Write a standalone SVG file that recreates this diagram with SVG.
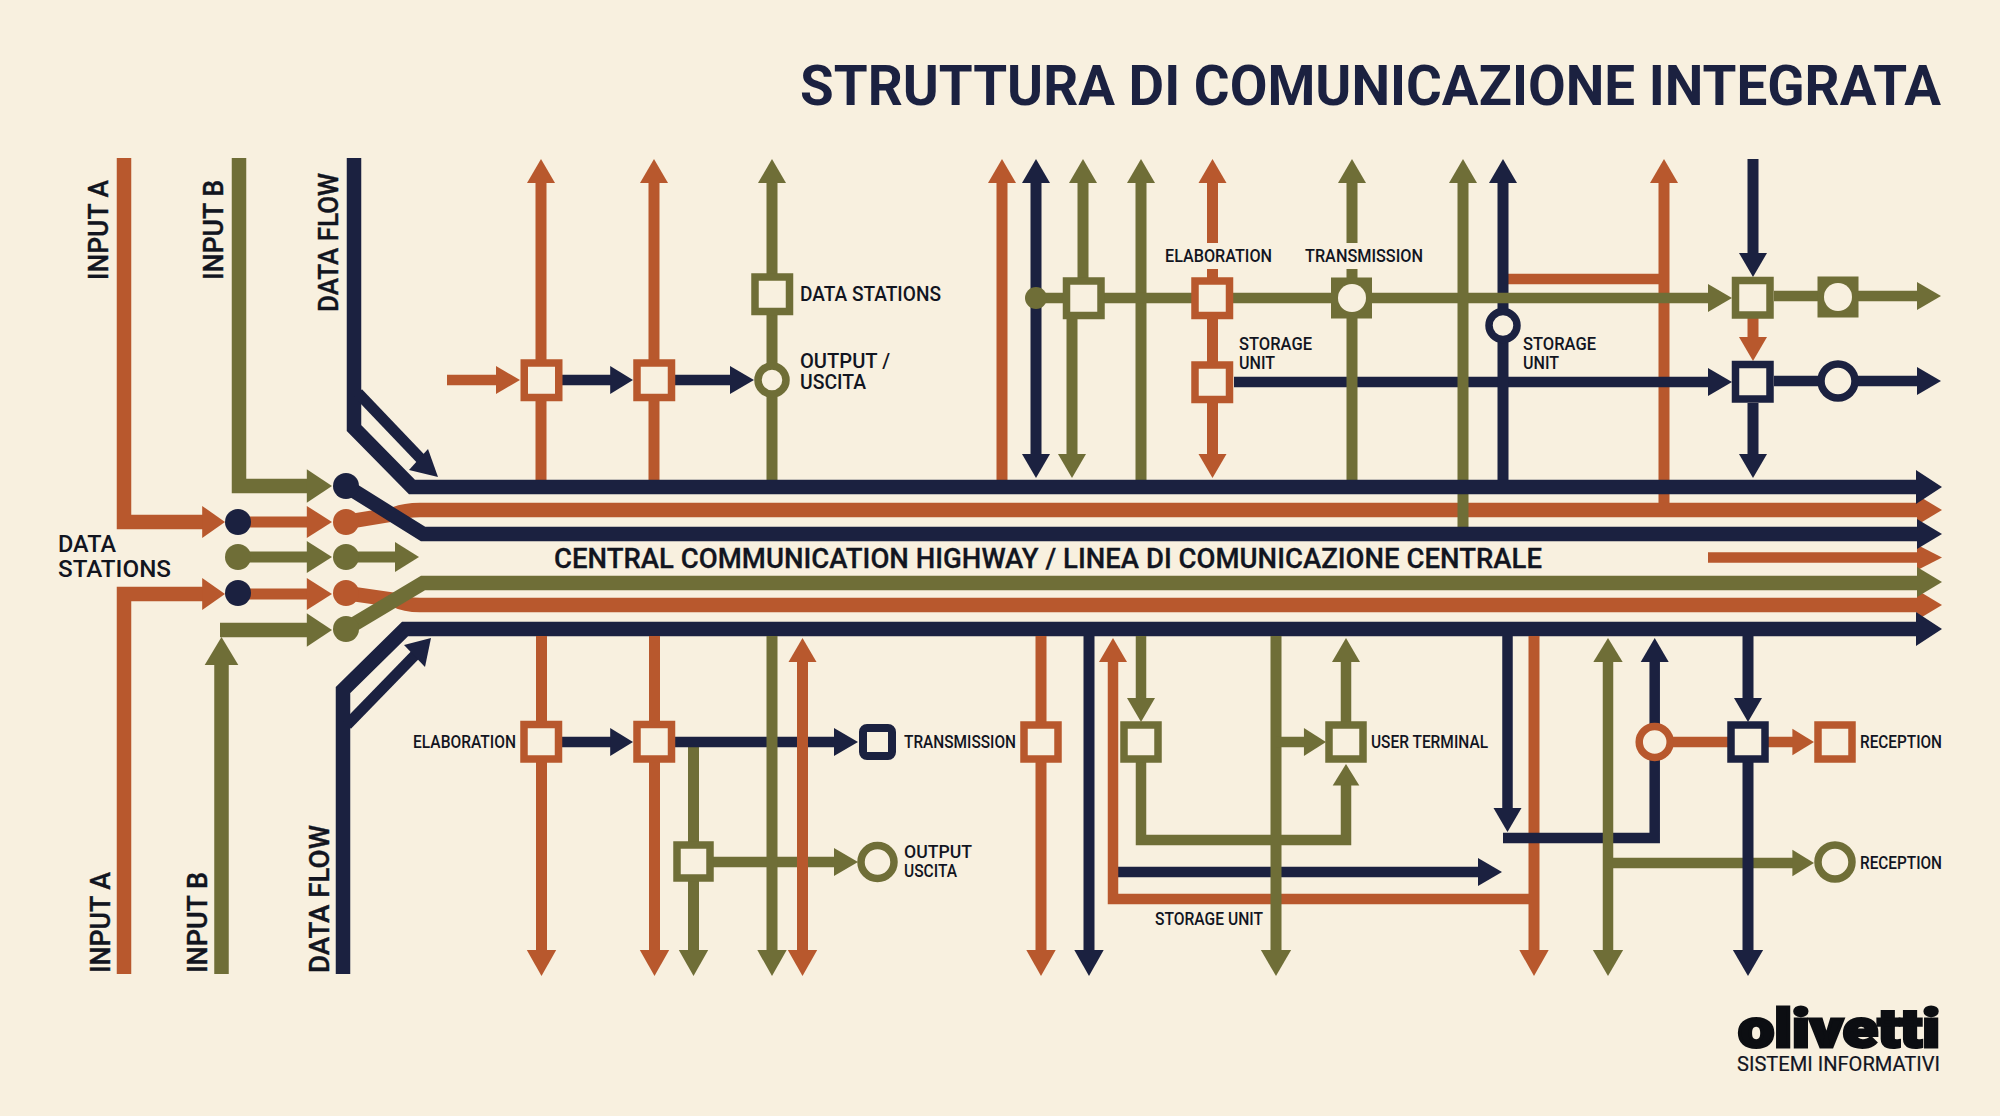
<svg xmlns="http://www.w3.org/2000/svg" width="2000" height="1116" viewBox="0 0 2000 1116">
<style>
.bg{fill:#f8f0df}
.l{fill:none;stroke-linejoin:miter}
.r{stroke:#b8582d}.o{stroke:#6f6e37}.n{stroke:#1b2140}
.fr{fill:#b8582d}.fo{fill:#6f6e37}.fn{fill:#1b2140}
.w10{stroke-width:10.500}.w11{stroke-width:11}.w14{stroke-width:14.500}
.box{fill:#f8f0df;stroke-width:7.500}
.hole{fill:#f8f0df}
text{font-family:"Roboto","Liberation Sans",sans-serif;font-weight:500;fill:#12151f}
.s{font-size:17.500px}.m{font-size:20px}.v{font-size:28px;stroke:#12151f;stroke-width:.4}
</style>
<defs>
<path id="ar" d="M-24-14L0 0L-24 14Z"/>
<path id="au" d="M-14 24L0 0L14 24Z"/>
<path id="ad" d="M-14-24L0 0L14-24Z"/>
<path id="aR" d="M-26-17L0 0L-26 17Z"/>
<path id="aM" d="M-25-15L0 0L-25 15Z"/>
</defs>
<rect class="bg" width="2000" height="1116"/>

<g id="connectors">
<!-- left inputs -->
<path class="l r w14" d="M124 158V522H205"/>
<path class="l r w14" d="M124 974V594H205"/>
<path class="l o w14" d="M239 158V486H310"/>
<path class="l o w14" d="M220 630H310"/>
<path class="l o w14" d="M221.500 974V660"/>
<use href="#ar" class="fr" transform="translate(225 522) scale(.95 1.15)"/>
<use href="#ar" class="fr" transform="translate(225 594) scale(.95 1.15)"/>
<use href="#ar" class="fo" transform="translate(332 486) scale(1.05 1.2)"/>
<use href="#ar" class="fo" transform="translate(332 630) scale(1.05 1.2)"/>
<use href="#au" class="fo" transform="translate(221.500 637) scale(1.2 1.17)"/>
<path class="l r w11" d="M238 522H310M238 594H310"/>
<path class="l o w11" d="M238 557H310M346 557H398"/>
<use href="#ar" class="fr" transform="translate(332 522) scale(1.05 1.15)"/>
<use href="#ar" class="fo" transform="translate(332 557) scale(1.05 1.15)"/>
<use href="#ar" class="fr" transform="translate(332 594) scale(1.05 1.15)"/>
<use href="#ar" class="fo" transform="translate(419 557) scale(1 1.08)"/>

<!-- verticals behind the highway, upper -->
<path class="l r w11" d="M541 183V480M654 183V480"/>
<path class="l o w11" d="M772 183V480"/>
<use href="#au" class="fr" x="541" y="159"/><use href="#au" class="fr" x="654" y="159"/><use href="#au" class="fo" x="772" y="159"/>
<path class="l r w10" d="M447 380H500"/>
<use href="#ar" class="fr" x="520" y="380"/>
<path class="l n w10" d="M562 380H612M675 380H733"/>
<use href="#ar" class="fn" transform="translate(633 380) scale(.95 1)"/>
<use href="#ar" class="fn" x="754" y="380"/>

<path class="l r w11" d="M1002 183V480"/><use href="#au" class="fr" x="1002" y="159"/>
<path class="l n w11" d="M1036 183V455"/><use href="#au" class="fn" x="1036" y="159"/><use href="#ad" class="fn" x="1036" y="478"/>
<path class="l o w11" d="M1083 183V298M1072 298V455"/><use href="#au" class="fo" x="1083" y="159"/><use href="#ad" class="fo" x="1072" y="478"/>
<path class="l o w11" d="M1141 183V480"/><use href="#au" class="fo" x="1141" y="159"/>
<path class="l r w11" d="M1212.500 183V243M1212.500 269V455"/><use href="#au" class="fr" x="1212.500" y="159"/><use href="#ad" class="fr" x="1212.500" y="478"/>
<path class="l r w10" d="M1508 279H1664"/>
<path class="l r w11" d="M1664 183V503"/><use href="#au" class="fr" x="1664" y="159"/>
<path class="l n w10" d="M1234 382H1712"/><use href="#ar" class="fn" x="1732" y="382"/>
<path class="l o w11" d="M1352 183V243M1352 269V480"/><use href="#au" class="fo" x="1352" y="159"/>
<path class="l n w11" d="M1503 183V480"/><use href="#au" class="fn" x="1503" y="159"/>
<path class="l o w10" d="M1036 298H1712"/><use href="#ar" class="fo" x="1732" y="298"/>
<path class="l n w11" d="M1753 159V255"/><use href="#ad" class="fn" x="1753" y="277"/>
<path class="l r w11" d="M1753 318V341"/><use href="#ad" class="fr" x="1753" y="361"/>
<path class="l n w11" d="M1753 403V456"/><use href="#ad" class="fn" x="1753" y="478"/>
<path class="l o w10" d="M1774 296H1920"/><use href="#ar" class="fo" x="1941" y="296"/>
<path class="l n w10" d="M1774 381H1920"/><use href="#ar" class="fn" x="1941" y="381"/>

<!-- highway -->
<path class="l r w14" d="M346 522L395 514Q405 510 420 510H1920"/>
<use href="#aM" class="fr" x="1942" y="510"/>
<path class="l o w11" d="M1463 183V527"/><use href="#au" class="fo" x="1463" y="159"/>
<path class="l r w10" d="M1708 557.500H1920"/>
<use href="#aM" class="fr" transform="translate(1942 557.500) scale(1 .85)"/>
<path class="l r w14" d="M346 593L395 600Q405 605 420 605H1920"/>
<use href="#aM" class="fr" x="1942" y="605"/>
<path class="l o w14" d="M346 629L423 583H1920"/>
<use href="#aM" class="fo" x="1942" y="582"/>
<path class="l n w14" d="M346 486L423 534H1920"/>
<use href="#aM" class="fn" x="1942" y="534"/>
<path class="l n w14" d="M354 158V428L412 487H1920"/>
<use href="#aR" class="fn" x="1942" y="487"/>
<path class="l n w14" d="M343 974V690L405 629H1920"/>
<use href="#aR" class="fn" x="1942" y="629"/>
<path class="l n w11" d="M358 393L421 459"/>
<path class="fn" d="M438 477L409 470L428 449Z"/>
<path class="l n w11" d="M347 725L417 653"/>
<path class="fn" d="M431 638L425 667L404 645Z"/>

<!-- lower verticals -->
<path class="l r w11" d="M541.500 636V952M654.500 636V952"/>
<use href="#ad" class="fr" transform="translate(541.500 976) scale(1.05 1.08)"/>
<use href="#ad" class="fr" transform="translate(654.500 976) scale(1.05 1.08)"/>
<path class="l o w11" d="M693.500 742V952"/><use href="#ad" class="fo" transform="translate(693.500 976) scale(1.05 1.08)"/>
<path class="l n w10" d="M562 742H612"/><use href="#ar" class="fn" transform="translate(633 742) scale(.95 1)"/>
<path class="l n w10" d="M675 742H838"/><use href="#ar" class="fn" x="858" y="742"/>
<path class="l o w10" d="M713 862H838"/><use href="#ar" class="fo" x="858" y="862"/>
<path class="l o w11" d="M772 636V952"/><use href="#ad" class="fo" transform="translate(772 976) scale(1.05 1.08)"/>
<path class="l r w11" d="M802.500 660V952"/><use href="#au" class="fr" x="802.500" y="638"/><use href="#ad" class="fr" transform="translate(802.500 976) scale(1.05 1.08)"/>

<path class="l r w11" d="M1041 636V952"/><use href="#ad" class="fr" transform="translate(1041 976) scale(1.05 1.08)"/>
<path class="l n w11" d="M1089 636V952"/><use href="#ad" class="fn" transform="translate(1089 976) scale(1.05 1.08)"/>
<path class="l n w10" d="M1118 872H1482"/><use href="#ar" class="fn" x="1502" y="872"/>
<path class="l r w10" d="M1113 660V899H1534"/><use href="#au" class="fr" x="1113" y="638"/>
<path class="l r w11" d="M1534 636V952"/><use href="#ad" class="fr" transform="translate(1534 976) scale(1.05 1.08)"/>
<path class="l o w10" d="M1141 636V702"/><use href="#ad" class="fo" x="1141" y="722"/>
<path class="l o w10" d="M1141 742V840H1346V783"/><use href="#au" class="fo" transform="translate(1346 764) scale(.95 .9)"/>
<path class="l o w11" d="M1276 636V952"/><use href="#ad" class="fo" transform="translate(1276 976) scale(1.08 1.08)"/>
<path class="l o w10" d="M1276 742H1306"/><use href="#ar" class="fo" transform="translate(1326 742) scale(.92 1)"/>
<path class="l o w10" d="M1346 722V660"/><use href="#au" class="fo" x="1346" y="638"/>
<path class="l n w10" d="M1507.500 636V812"/><use href="#ad" class="fn" x="1507.500" y="832"/>
<path class="l n w10" d="M1503 838H1654.700V660"/><use href="#au" class="fn" x="1654.700" y="638"/>
<path class="l o w10" d="M1608 660V952"/><use href="#au" class="fo" transform="translate(1608 638) scale(1.05 1)"/><use href="#ad" class="fo" transform="translate(1608 976) scale(1.08 1.08)"/>
<path class="l o w10" d="M1608 863H1795"/><use href="#ar" class="fo" transform="translate(1814 863) scale(.9 .95)"/>
<path class="l r w10" d="M1673 742H1795"/><use href="#ar" class="fr" transform="translate(1814 742) scale(.9 .95)"/>
<path class="l n w11" d="M1748 636V702M1748 762V952"/><use href="#ad" class="fn" x="1748" y="722"/><use href="#ad" class="fn" transform="translate(1748 976) scale(1.08 1.08)"/>
</g>

<g id="input-dots">
<circle class="fn" cx="238" cy="522" r="13"/><circle class="fo" cx="238" cy="557" r="13"/><circle class="fn" cx="238" cy="593" r="13"/>
<circle class="fn" cx="346" cy="486" r="13"/><circle class="fr" cx="346" cy="522" r="13"/><circle class="fo" cx="346" cy="557" r="13"/><circle class="fr" cx="346" cy="593" r="13"/><circle class="fo" cx="346" cy="629" r="13"/>
<circle class="fo" cx="1036" cy="298" r="11"/>
</g>

<g id="n1"><rect class="box r" x="524.250" y="363" width="34.500" height="34.500"/></g>
<g id="n2"><rect class="box r" x="637" y="363" width="34.500" height="34.500"/></g>
<g id="n3"><rect class="box o" x="755" y="277" width="34.500" height="34.500"/></g>
<g id="n4"><circle class="box o" cx="772" cy="380" r="14"/></g>
<g id="n5"><rect class="box o" x="1066.500" y="281" width="34.500" height="34.500"/></g>
<g id="n6"><rect class="box r" x="1195" y="281" width="34.500" height="34.500"/></g>
<g id="n7"><rect class="box r" x="1195" y="365" width="34.500" height="34.500"/></g>
<g id="n8"><rect class="fo" x="1331" y="277.500" width="41" height="41"/><circle class="hole" cx="1352" cy="298" r="14"/></g>
<g id="n9"><circle class="box n" cx="1503" cy="325.500" r="14"/></g>
<g id="n10"><rect class="box o" x="1735.500" y="280.500" width="34.500" height="34.500"/></g>
<g id="n11"><rect class="fo" x="1817.500" y="276.500" width="41" height="41"/><circle class="hole" cx="1838" cy="297" r="14"/></g>
<g id="n12"><rect class="box n" x="1735.500" y="364.500" width="34.500" height="34.500"/></g>
<g id="n13"><circle class="box n" cx="1838" cy="381" r="17"/></g>
<g id="n14"><rect class="box r" x="524" y="724.500" width="34.500" height="34.500"/></g>
<g id="n15"><rect class="box r" x="637" y="724.500" width="34.500" height="34.500"/></g>
<g id="n16"><rect class="box n" x="863" y="728" width="29" height="28" rx="4" style="stroke-width:8"/></g>
<g id="n17"><rect class="box o" x="677" y="845" width="33" height="33"/></g>
<g id="n18"><circle class="box o" cx="877.500" cy="862" r="16.500"/></g>
<g id="n19"><rect class="box r" x="1024" y="725" width="34" height="34"/></g>
<g id="n20"><rect class="box o" x="1124" y="725" width="34" height="34"/></g>
<g id="n21"><rect class="box o" x="1329" y="725" width="34" height="34"/></g>
<g id="n22"><circle class="box r" cx="1654.700" cy="742" r="15.500"/></g>
<g id="n23"><rect class="box n" x="1731" y="725" width="34" height="34"/></g>
<g id="n24"><rect class="box r" x="1818" y="725" width="34" height="34"/></g>
<g id="n25"><circle class="box o" cx="1835" cy="862" r="17"/></g>

<g id="labels">
<text x="800" y="105" style="font-size:55px;font-weight:700;fill:#1b2140" textLength="1141" lengthAdjust="spacingAndGlyphs">STRUTTURA DI COMUNICAZIONE INTEGRATA</text>
<text class="v" transform="translate(108 280) rotate(-90)" textLength="100" lengthAdjust="spacingAndGlyphs">INPUT A</text>
<text class="v" transform="translate(223 280) rotate(-90)" textLength="100" lengthAdjust="spacingAndGlyphs">INPUT B</text>
<text class="v" transform="translate(338 312) rotate(-90)" textLength="139" lengthAdjust="spacingAndGlyphs">DATA FLOW</text>
<text class="v" transform="translate(110 973) rotate(-90)" textLength="101" lengthAdjust="spacingAndGlyphs">INPUT A</text>
<text class="v" transform="translate(207 973) rotate(-90)" textLength="101" lengthAdjust="spacingAndGlyphs">INPUT B</text>
<text class="v" transform="translate(329 973) rotate(-90)" textLength="148" lengthAdjust="spacingAndGlyphs">DATA FLOW</text>
<text x="58" y="552" style="font-size:24px" textLength="58" lengthAdjust="spacingAndGlyphs">DATA</text>
<text x="58" y="577" style="font-size:24px" textLength="113" lengthAdjust="spacingAndGlyphs">STATIONS</text>
<text x="554" y="568" style="font-size:27px;stroke:#12151f;stroke-width:.3" textLength="988" lengthAdjust="spacingAndGlyphs">CENTRAL COMMUNICATION HIGHWAY / LINEA DI COMUNICAZIONE CENTRALE</text>
<text class="m" x="800" y="301" textLength="141" lengthAdjust="spacingAndGlyphs">DATA STATIONS</text>
<text class="m" x="800" y="368" textLength="90" lengthAdjust="spacingAndGlyphs">OUTPUT /</text>
<text class="m" x="800" y="389" textLength="66" lengthAdjust="spacingAndGlyphs">USCITA</text>
<text class="s" x="1165" y="262" textLength="107" lengthAdjust="spacingAndGlyphs">ELABORATION</text>
<text class="s" x="1305" y="262" textLength="118" lengthAdjust="spacingAndGlyphs">TRANSMISSION</text>
<text class="s" x="1239" y="350" textLength="73" lengthAdjust="spacingAndGlyphs">STORAGE</text>
<text class="s" x="1239" y="369" textLength="36" lengthAdjust="spacingAndGlyphs">UNIT</text>
<text class="s" x="1523" y="350" textLength="73" lengthAdjust="spacingAndGlyphs">STORAGE</text>
<text class="s" x="1523" y="369" textLength="36" lengthAdjust="spacingAndGlyphs">UNIT</text>
<text class="s" x="413" y="748" textLength="103" lengthAdjust="spacingAndGlyphs">ELABORATION</text>
<text class="s" x="904" y="748" textLength="112" lengthAdjust="spacingAndGlyphs">TRANSMISSION</text>
<text class="s" x="904" y="858" textLength="68" lengthAdjust="spacingAndGlyphs">OUTPUT</text>
<text class="s" x="904" y="877" textLength="53" lengthAdjust="spacingAndGlyphs">USCITA</text>
<text class="s" x="1155" y="925" textLength="108" lengthAdjust="spacingAndGlyphs">STORAGE UNIT</text>
<text class="s" x="1371" y="748" textLength="117" lengthAdjust="spacingAndGlyphs">USER TERMINAL</text>
<text class="s" x="1860" y="748" textLength="82" lengthAdjust="spacingAndGlyphs">RECEPTION</text>
<text class="s" x="1860" y="869" textLength="82" lengthAdjust="spacingAndGlyphs">RECEPTION</text>
<text x="1738" y="1047" style="font-size:54px;font-weight:900;fill:#0c0e12;stroke:#0c0e12;stroke-width:3" textLength="202" lengthAdjust="spacingAndGlyphs">olivetti</text>
<text x="1737" y="1071" style="font-size:19.500px;font-weight:400;stroke:#12151f;stroke-width:.2" textLength="203" lengthAdjust="spacingAndGlyphs">SISTEMI INFORMATIVI</text>
</g>
</svg>
